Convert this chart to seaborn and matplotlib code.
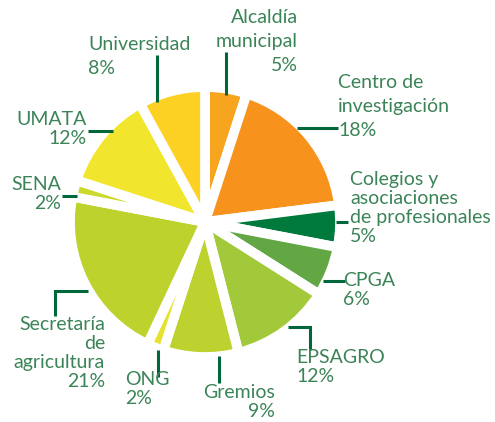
import numpy as np
import matplotlib.pyplot as plt
import seaborn as sns

sns.set_theme(style='white')
plt.rcParams['font.family'] = ['Lato', 'DejaVu Sans']

# datos (en el sentido de las agujas del reloj desde arriba)
entidades = ['Alcaldía\nmunicipal', 'Centro de\ninvestigación', 'Colegios y\nasociaciones\nde profesionales',
             'CPGA', 'EPSAGRO', 'Gremios', 'ONG', 'Secretaría\nde\nagricultura', 'SENA', 'UMATA', 'Universidad']
porcentajes = [5, 18, 5, 6, 12, 9, 2, 21, 2, 12, 8]
colores = ['#F7A51F', '#F7931D', '#007A3C', '#62A744', '#A2C93A', '#BDD22E',
           '#E5E12D', '#BDD22D', '#CCDA2D', '#F2E52E', '#FDD124']

H = 422
fig = plt.figure(figsize=(4.95, 4.22), dpi=100)
ax = fig.add_axes([0, 0, 1, 1])

ax.pie(porcentajes, colors=colores, startangle=90, counterclock=False,
       center=(205, H - 222), radius=135,
       wedgeprops=dict(edgecolor='white', linewidth=7))
ax.set_xlim(0, 495)
ax.set_ylim(0, H)
ax.set_aspect('equal')
ax.axis('off')

color_texto = '#3B8457'
color_linea = '#00673A'

# posicion del texto: (x, y centro primera linea, alineacion, interlineado)
etiquetas = [
    (298, 19, 'right', 1.5),
    (338, 84, 'left', 1.5),
    (350, 181, 'left', 1.14),
    (343, 282, 'left', 1.14),
    (296, 359, 'left', 1.14),
    (275, 394, 'right', 1.14),
    (125, 381, 'left', 1.14),
    (105, 326, 'right', 1.14),
    (61, 186, 'right', 1.14),
    (87, 121, 'right', 1.14),
    (88, 46, 'left', 1.5),
]
lineas = [
    [(226, 52), (226, 95)],
    [(297, 128), (338, 128)],
    [(336, 222), (348, 222)],
    [(323, 281), (345, 281)],
    [(288, 327), (310, 327), (310, 350)],
    [(219, 356), (219, 383)],
    [(158, 350), (158, 377)],
    [(88, 291), (55, 291), (55, 316)],
    [(62, 196), (77, 196)],
    [(88, 131), (113, 131)],
    [(157, 55), (157, 102)],
]

for nombre, pct, (x, y, ha, ls), pts in zip(entidades, porcentajes, etiquetas, lineas):
    pts = np.array(pts, dtype=float)
    ax.plot(pts[:, 0], H - pts[:, 1], color=color_linea, lw=2.2,
            solid_capstyle='butt', solid_joinstyle='miter')
    ax.text(x, H - y + 10, f'{nombre}\n{pct}%', ha=ha, va='top', multialignment=ha,
            fontsize=14, color=color_texto, linespacing=ls)

fig.savefig('out.png', dpi=100)
